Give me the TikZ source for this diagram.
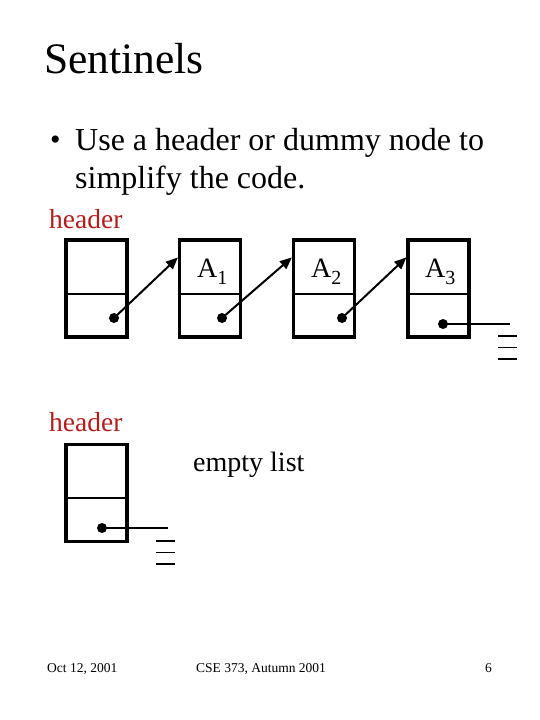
\documentclass[tikz,border=0pt]{standalone}
\usepackage{fontspec}
\setmainfont{Liberation Serif}
\usetikzlibrary{arrows.meta}
\definecolor{hdrred}{RGB}{180,28,28}
\newcommand{\fsz}[1]{\fontsize{#1}{#1}\selectfont}
\newcommand{\Asub}[1]{A\raisebox{-0.26em}{\fsz{20}#1}}
\begin{document}
\begin{tikzpicture}[x=1pt,y=-1pt,
  cell/.style={draw, line width=3.2pt, minimum width=61pt, minimum height=97pt, inner sep=0pt},
  divider/.style={line width=2pt},
  ptdot/.style={circle, fill, inner sep=0pt, minimum size=10pt},
  link/.style={line width=2pt, -{Triangle[length=12pt,width=10pt]}},
  nilline/.style={line width=1.6pt},
  txt/.style={anchor=base west, inner sep=0pt},
  hdr/.style={txt, text=hdrred, font=\fsz{27.5}},
  elem/.style={txt, font=\fsz{28}},
  foot/.style={txt, font=\fsz{13.5}}]
\useasboundingbox (0,0) rectangle (540,720);

% title and bullet text
\node[txt, font=\fsz{43.5}] (title) at (44,73) {Sentinels};
\node[txt, font=\fsz{30}] (bul) at (50,149) {•};
\node[txt, font=\fsz{32}] (line1) at (75,150) {Use a header or dummy node to};
\node[txt, font=\fsz{32}] (line2) at (75,188) {simplify the code.};

% top list
\node[hdr] (h1) at (49,228) {header};
\node[cell] (b0) at (96.5,288.5) {};
\node[cell] (b1) at (210,288.5) {};
\node[cell] (b2) at (324,288.5) {};
\node[cell] (b3) at (438.5,288.5) {};
\foreach \b in {b0,b1,b2,b3}{
  \draw[divider] ([yshift=-56pt]\b.north west) -- ([yshift=-56pt]\b.north east);
}
\node[elem] (a1) at (197,277) {\Asub{1}};
\node[elem] (a2) at (311,277) {\Asub{2}};
\node[elem] (a3) at (425,277) {\Asub{3}};

\node[ptdot] (d0) at (114,318) {};
\node[ptdot] (d1) at (222,318) {};
\node[ptdot] (d2) at (342,318) {};
\node[ptdot] (d3) at (443,324) {};
\coordinate (t1) at ([yshift=-19pt]b1.north west);
\coordinate (t2) at ([yshift=-19pt]b2.north west);
\coordinate (t3) at ([yshift=-19pt]b3.north west);
\draw[link] (d0.center) -- (t1);
\draw[link] (d1.center) -- (t2);
\draw[link] (d2.center) -- (t3);

\coordinate (n3) at (510,324);
\draw[nilline] (d3.center) -- (n3);
\coordinate (g3) at (498,336);
\draw[nilline] (g3) -- ++(19,0);
\draw[nilline] ([yshift=-11.5pt]g3) -- ++(19,0);
\draw[nilline] ([yshift=-23pt]g3) -- ++(19,0);

% empty list
\node[hdr] (h2) at (49,431) {header};
\node[cell] (e0) at (96.5,493) {};
\draw[divider] ([yshift=-55pt]e0.north west) -- ([yshift=-55pt]e0.north east);
\node[ptdot] (de) at (102,528) {};
\coordinate (ne) at (168,528);
\draw[nilline] (de.center) -- (ne);
\coordinate (ge) at (156,541);
\draw[nilline] (ge) -- ++(19,0);
\draw[nilline] ([yshift=-11.5pt]ge) -- ++(19,0);
\draw[nilline] ([yshift=-23pt]ge) -- ++(19,0);
\node[elem] (el) at (193,471) {empty list};

% footer
\node[foot] (f1) at (47,672) {Oct 12, 2001};
\node[foot] (f2) at (196,672) {CSE 373, Autumn 2001};
\node[foot] (f3) at (485,672) {6};
\end{tikzpicture}
\end{document}
